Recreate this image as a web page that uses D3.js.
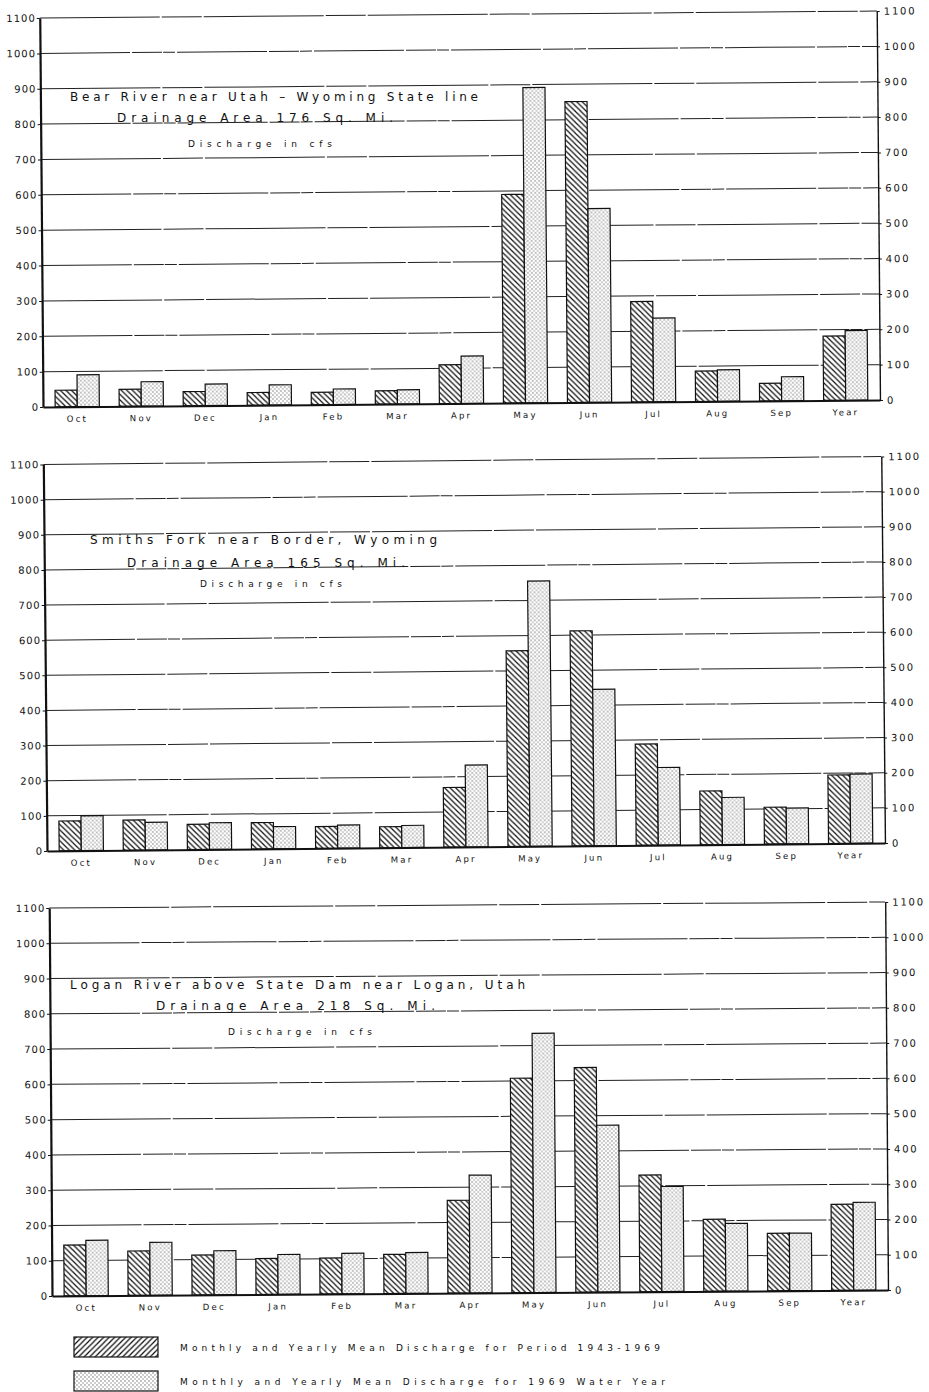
<!DOCTYPE html>
<html>
<head>
<meta charset="utf-8">
<script src="https://cdn.jsdelivr.net/npm/d3@7"></script>
<style>
body{margin:0;background:#fff;}
svg text{font-family:"DejaVu Sans",sans-serif;fill:#111;}
</style>
</head>
<body>
<div class="interactive-wrapper"></div>
<script>

const months = ["Oct","Nov","Dec","Jan","Feb","Mar","Apr","May","Jun","Jul","Aug","Sep","Year"];
const yTicks = [0,100,200,300,400,500,600,700,800,900,1000,1100];

// Bear River near Utah-Wyoming State line
const bearTitle = ["Bear River near Utah \u2013 Wyoming  State line", "Drainage Area 176 Sq. Mi.", "Discharge in cfs"];
const bearPeriod = [47, 48, 40, 36, 35, 38, 110, 590, 851, 284, 86, 50, 182];
const bear1969 = [90, 69, 61, 57, 44, 40, 134, 892, 548, 237, 89, 68, 197];

// Smiths Fork near Border
const smithsTitle = ["Smiths Fork near Border, Wyoming", "Drainage Area 165 Sq. Mi.", "Discharge in cfs"];
const smithsPeriod = [85, 86, 72, 75, 62, 60, 170, 557, 612, 288, 153, 105, 195];
const smiths1969 = [99, 79, 76, 63, 66, 63, 233, 755, 445, 221, 134, 102, 197];

// Logan River above State Dam
const loganTitle = ["Logan River above State Dam near Logan, Utah", "Drainage Area 218 Sq. Mi.", "Discharge in cfs"];
const loganPeriod = [144, 126, 113, 102, 102, 111, 263, 608, 637, 331, 204, 163, 244];
const logan1969 = [157, 150, 125, 113, 115, 116, 334, 735, 473, 298, 192, 163, 249];

const legendLabels = ["Monthly and Yearly Mean Discharge for Period 1943-1969", "Monthly and Yearly Mean Discharge for 1969 Water Year"];

// layout of the three panels (scan is slightly tilted, hence tilt)
const panels = [
	{title: bearTitle, period: bearPeriod, wy: bear1969, x0: 43, x1: 880, y0: 407, h: 389, tilt: -7,
		lines: [[70, 478, 101], [117, 393, 122], [188, 332, 147]]},
	{title: smithsTitle, period: smithsPeriod, wy: smiths1969, x0: 47, x1: 885, y0: 851, h: 386.5, tilt: -8,
		lines: [[90, 437, 544], [127, 405, 567], [200, 342, 587]]},
	{title: loganTitle, period: loganPeriod, wy: logan1969, x0: 52, x1: 888, y0: 1296, h: 388, tilt: -6,
		lines: [[70, 525, 989], [156, 435, 1010], [228, 372, 1035]]}
];

const width = 929, height = 1392;

const svg = d3.select('.interactive-wrapper')
.append('svg')
.attr('width', width)
.attr('height', height)

const defs = svg.append('defs');

const hatch = (id, back) => {
	let s = 5.5;
	let p = defs.append('pattern')
	.attr('id', id)
	.attr('patternUnits', 'userSpaceOnUse')
	.attr('width', s)
	.attr('height', s)
	p.append('rect').attr('width', s).attr('height', s).attr('fill', '#fff')
	let d = back
		? `M0,0L${s},${s}M${-s/2},${s/2}L${s/2},${s*1.5}M${s/2},${-s/2}L${s*1.5},${s/2}`
		: `M0,${s}L${s},0M${-s/2},${s/2}L${s/2},${-s/2}M${s/2},${s*1.5}L${s*1.5},${s/2}`;
	p.append('path').attr('d', d).attr('stroke', '#111').attr('stroke-width', 1.25)
}

hatch('hatchBar', true)
hatch('hatchKey', false)

const dots = defs.append('pattern')
.attr('id', 'dots')
.attr('patternUnits', 'userSpaceOnUse')
.attr('width', 4)
.attr('height', 4)
dots.append('rect').attr('width', 4).attr('height', 4).attr('fill', '#fff')
dots.append('circle').attr('cx', 1).attr('cy', 1).attr('r', 0.65).attr('fill', '#555')
dots.append('circle').attr('cx', 3).attr('cy', 3).attr('r', 0.65).attr('fill', '#777')

const fmt = d => String(d);

const makePanel = (p) => {

	let angle = Math.atan2(p.tilt, p.x1 - p.x0) * 180 / Math.PI;

	let g = svg.append('g')
	.attr('transform', `rotate(${angle},${p.x0},${p.y0})`)

	let x = d3.scaleBand()
	.domain(months)
	.range([p.x0, p.x1])
	.paddingInner(0.31)
	.paddingOuter(0.19)

	let y = d3.scaleLinear()
	.domain([0, 1100])
	.range([p.y0, p.y0 - p.h])

	// gridlines
	g.append('g')
	.selectAll('line')
	.data(yTicks.filter(t => t > 0))
	.join('line')
	.attr('x1', p.x0)
	.attr('x2', p.x1)
	.attr('y1', d => y(d))
	.attr('y2', d => y(d))
	.attr('stroke', '#222')
	.attr('stroke-width', 1)
	.attr('stroke-dasharray', (d, i) => i % 2 ? '90,2,30,1,12,2' : '120,2,40,2')

	let bw = x.bandwidth() / 2;

	g.append('g')
	.selectAll('rect')
	.data(p.period)
	.join('rect')
	.attr('x', (d, i) => x(months[i]))
	.attr('y', d => y(d))
	.attr('width', bw)
	.attr('height', d => y(0) - y(d))
	.attr('fill', 'url(#hatchBar)')
	.attr('stroke', '#111')
	.attr('stroke-width', 1.2)

	g.append('g')
	.selectAll('rect')
	.data(p.wy)
	.join('rect')
	.attr('x', (d, i) => x(months[i]) + bw)
	.attr('y', d => y(d))
	.attr('width', bw)
	.attr('height', d => y(0) - y(d))
	.attr('fill', 'url(#dots)')
	.attr('stroke', '#111')
	.attr('stroke-width', 1.2)

	let left = g.append('g')
	.attr('transform', `translate(${p.x0},0)`)
	.call(d3.axisLeft(y).tickValues(yTicks).tickFormat(fmt).tickSize(3).tickSizeOuter(0).tickPadding(1))

	let right = g.append('g')
	.attr('transform', `translate(${p.x1},0)`)
	.call(d3.axisRight(y).tickValues(yTicks).tickFormat(fmt).tickSize(3).tickSizeOuter(0).tickPadding(4))

	let bottom = g.append('g')
	.attr('transform', `translate(0,${p.y0})`)
	.call(d3.axisBottom(x).tickSize(0).tickSizeOuter(0).tickPadding(9))

	left.select('.domain').attr('stroke', '#111').attr('stroke-width', 2.2)
	right.select('.domain').attr('stroke', '#111').attr('stroke-width', 1.4)
	bottom.select('.domain').attr('stroke', '#111').attr('stroke-width', 2)

	g.selectAll('.tick line').attr('stroke', '#111')

	left.selectAll('text').attr('font-size', 10).attr('letter-spacing', 1).attr('fill', '#111')
	right.selectAll('text').attr('font-size', 10).attr('letter-spacing', 1.8).attr('fill', '#111')
	bottom.selectAll('text').attr('font-size', 8.5).attr('letter-spacing', 2.2).attr('fill', '#111')
	g.selectAll('.tick text').attr('font-family', '"DejaVu Sans", sans-serif')

	// title block
	svg.append('g')
	.selectAll('text')
	.data(p.title)
	.join('text')
	.attr('x', (d, i) => p.lines[i][0])
	.attr('y', (d, i) => p.lines[i][2])
	.attr('textLength', (d, i) => p.lines[i][1] - p.lines[i][0])
	.attr('lengthAdjust', 'spacing')
	.attr('font-size', (d, i) => i < 2 ? 12 : 9)
	.text(d => d)
}

panels.map(p => makePanel(p))

// legend
let legend = svg.append('g')

legend.selectAll('rect')
.data(legendLabels)
.join('rect')
.attr('x', 74)
.attr('y', (d, i) => 1337 + i * 34)
.attr('width', 84)
.attr('height', 20)
.attr('fill', (d, i) => i ? 'url(#dots)' : 'url(#hatchKey)')
.attr('stroke', '#111')
.attr('stroke-width', 1.2)

legend.selectAll('text')
.data(legendLabels)
.join('text')
.attr('x', 180)
.attr('y', (d, i) => 1351 + i * 34)
.attr('textLength', (d, i) => i ? 485 : 480)
.attr('lengthAdjust', 'spacing')
.attr('font-size', 9)
.text(d => d)

</script>
</body>
</html>
